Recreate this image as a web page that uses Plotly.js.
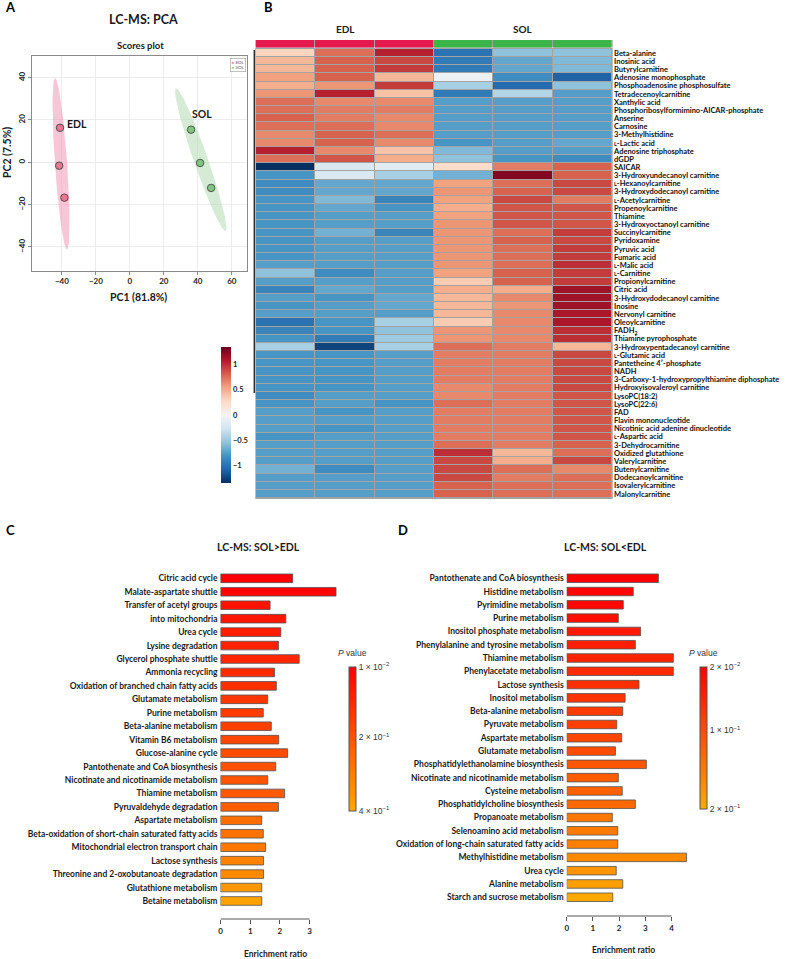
<!DOCTYPE html>
<html><head><meta charset="utf-8">
<script src="https://cdn.plot.ly/plotly-3.0.1.min.js"></script>
<style>html,body{margin:0;padding:0;background:#fff}#chart{width:800px;height:959px}</style>
</head><body><div id="chart"></div>
<script>
// ---------------- Panel A: PCA scores ----------------
const edlPC1 = [-41.1, -41.6, -38.5];
const edlPC2 = [16.3, -1.6, -16.7];
const solPC1 = [36.0, 41.3, 47.8];
const solPC2 = [15.4, -0.3, -12.1];
// confidence ellipses: [centre x, centre y, half-axis vector (x,y), half-width vector (x,y)]
const edlEllipse = [-40.5, -0.7, -3.5, 40.4, 3.6, 0];
const solEllipse = [41.7, 1.25, -14.5, 33.75, 4.4, 0];

// ---------------- Panel B: heatmap ----------------
const sL = '<span style="font-size:5.5px">L</span>';
const metabolites = [
 'Beta-alanine','Inosinic acid','Butyrylcarnitine','Adenosine monophosphate','Phosphoadenosine phosphosulfate',
 'Tetradecenoylcarnitine','Xanthylic acid','Phosphoribosylformimino-AICAR-phosphate','Anserine','Carnosine',
 '3-Methylhistidine', sL+'-Lactic acid','Adenosine triphosphate','dGDP','SAICAR',
 '3-Hydroxyundecanoyl carnitine', sL+'-Hexanoylcarnitine','3-Hydroxydodecanoyl carnitine', sL+'-Acetylcarnitine','Propenoylcarnitine',
 'Thiamine','3-Hydroxyoctanoyl carnitine','Succinylcarnitine','Pyridoxamine','Pyruvic acid',
 'Fumaric acid', sL+'-Malic acid', sL+'-Carnitine','Propionylcarnitine','Citric acid',
 '3-Hydroxydodecanoyl carnitine','Inosine','Nervonyl carnitine','Oleoylcarnitine','FADH<sub>2</sub>',
 'Thiamine pyrophosphate','3-Hydroxypentadecanoyl carnitine', sL+'-Glutamic acid','Pantetheine 4\u2032-phosphate','NADH',
 '3-Carboxy-1-hydroxypropylthiamine diphosphate','Hydroxyisovaleroyl carnitine','LysoPC(18:2)','LysoPC(22:6)','FAD',
 'Flavin mononucleotide','Nicotinic acid adenine dinucleotide', sL+'-Aspartic acid','3-Dehydrocarnitine','Oxidized glutathione',
 'Valerylcarnitine','Butenylcarnitine','Dodecanoylcarnitine','Isovalerylcarnitine','Malonylcarnitine'];
const sampleGroups = ['EDL','EDL','EDL','SOL','SOL','SOL'];
const EDL_1 = [0.3,0.45,0.45,0.55,0.5,0.6,0.75,0.75,0.8,0.75,0.65,0.65,1.05,0.75,
 -1.35,-0.8,-0.85,-0.85,-0.8,-0.8,-0.8,-0.8,-0.8,-0.8,-0.8,-0.8,-0.75,
 -0.55,-0.75,-0.9,-0.75,-0.8,-0.75,-1.0,-0.9,-0.8,-0.45,
 -0.8,-0.8,-0.8,-0.8,-0.8,-0.85,-0.8,-0.75,-0.75,-0.75,-0.8,-0.75,
 -0.75,-0.75,-0.65,-0.75,-0.75,-0.75];
const EDL_2 = [0.75,0.8,0.8,0.8,0.6,1.05,0.65,0.7,0.7,0.75,0.8,0.8,0.65,0.85,
 -0.2,-0.2,-0.7,-0.7,-0.6,-0.7,-0.75,-0.75,-0.65,-0.75,-0.75,-0.75,-0.75,
 -0.85,-0.75,-0.7,-0.8,-0.75,-0.75,-0.8,-0.8,-0.95,-1.25,
 -0.8,-0.8,-0.8,-0.8,-0.8,-0.75,-0.75,-0.8,-0.75,-0.8,-0.75,-0.75,
 -0.75,-0.75,-0.85,-0.75,-0.75,-0.75];
const EDL_3 = [1.05,0.9,0.95,0.45,0.95,0.4,0.65,0.7,0.65,0.65,0.75,0.65,0.4,0.5,
 -0.15,-0.45,-0.7,-0.7,-0.9,-0.8,-0.75,-0.75,-0.9,-0.75,-0.75,-0.75,-0.75,
 -0.75,-0.75,-0.75,-0.7,-0.7,-0.75,-0.45,-0.55,-0.5,-0.45,
 -0.75,-0.75,-0.75,-0.75,-0.75,-0.75,-0.8,-0.75,-0.75,-0.75,-0.75,-0.75,
 -0.75,-0.75,-0.75,-0.75,-0.75,-0.75];
const SOL_1 = [-1.0,-0.95,-0.95,-0.05,-0.45,-0.95,-0.75,-0.75,-0.75,-0.75,-0.75,-0.8,-0.6,-0.55,
 0.25,-0.65,0.55,0.6,0.55,0.5,0.55,0.6,0.6,0.6,0.6,0.6,0.6,
 0.55,0.35,0.5,0.45,0.45,0.45,0.35,0.6,0.6,0.75,
 0.7,0.7,0.7,0.7,0.65,0.65,0.75,0.7,0.7,0.7,0.7,0.75,
 1.0,0.9,0.9,0.9,0.8,0.8];
const SOL_2 = [-0.55,-0.7,-0.7,-0.85,-1.05,-0.4,-0.75,-0.75,-0.75,-0.75,-0.75,-0.75,-0.75,-0.8,
 0.7,1.25,0.75,0.8,0.9,0.85,0.85,0.85,0.75,0.8,0.75,0.75,0.75,
 0.8,0.8,0.5,0.65,0.6,0.65,0.65,0.65,0.65,0.7,
 0.7,0.7,0.7,0.7,0.7,0.7,0.7,0.7,0.7,0.7,0.7,0.7,
 0.45,0.5,0.75,0.7,0.75,0.75];
const SOL_3 = [-0.55,-0.6,-0.6,-1.1,-0.55,-0.75,-0.75,-0.75,-0.75,-0.75,-0.75,-0.7,-0.75,-0.85,
 0.8,0.8,0.9,0.9,0.7,0.85,0.85,0.85,0.95,0.9,0.95,0.95,1.0,
 0.95,0.95,1.15,1.15,1.15,1.1,1.1,1.0,1.0,0.45,
 0.9,0.9,0.9,0.9,0.9,0.85,0.85,0.85,0.85,0.85,0.85,0.8,
 0.75,0.9,0.65,0.75,0.75,0.75];

// ---------------- Panel C: SOL>EDL enrichment ----------------
const pathwaysC = ['Citric acid cycle','Malate-aspartate shuttle','Transfer of acetyl groups','into mitochondria','Urea cycle',
 'Lysine degradation','Glycerol phosphate shuttle','Ammonia recycling','Oxidation of branched chain fatty acids','Glutamate metabolism',
 'Purine metabolism','Beta-alanine metabolism','Vitamin B6 metabolism','Glucose-alanine cycle','Pantothenate and CoA biosynthesis',
 'Nicotinate and nicotinamide metabolism','Thiamine metabolism','Pyruvaldehyde degradation','Aspartate metabolism','Beta-oxidation of short-chain saturated fatty acids',
 'Mitochondrial electron transport chain','Lactose synthesis','Threonine and 2-oxobutanoate degradation','Glutathione metabolism','Betaine metabolism'];
const enrichC = [2.43,3.89,1.67,2.2,2.03,1.95,2.65,1.82,1.88,1.59,1.44,1.71,1.96,2.26,1.86,1.59,2.16,1.95,1.39,1.44,1.52,1.45,1.45,1.39,1.39];
const pValC = [0.01,0.018,0.049,0.061,0.076,0.088,0.096,0.108,0.119,0.135,0.147,0.158,0.174,0.186,0.197,0.205,0.217,0.228,0.264,0.275,0.291,0.314,0.33,0.361,0.388];

// ---------------- Panel D: SOL<EDL enrichment ----------------
const pathwaysD = ['Pantothenate and CoA biosynthesis','Histidine metabolism','Pyrimidine metabolism','Purine metabolism','Inositol phosphate metabolism',
 'Phenylalanine and tyrosine metabolism','Thiamine metabolism','Phenylacetate metabolism','Lactose synthesis','Inositol metabolism',
 'Beta-alanine metabolism','Pyruvate metabolism','Aspartate metabolism','Glutamate metabolism','Phosphatidylethanolamine biosynthesis',
 'Nicotinate and nicotinamide metabolism','Cysteine metabolism','Phosphatidylcholine biosynthesis','Propanoate metabolism','Selenoamino acid metabolism',
 'Oxidation of long-chain saturated fatty acids','Methylhistidine metabolism','Urea cycle','Alanine metabolism','Starch and sucrose metabolism'];
const enrichD = [3.5,2.54,2.16,1.97,2.82,2.62,4.07,4.07,2.76,2.23,2.14,1.91,2.1,1.86,3.04,1.97,2.12,2.62,1.74,1.95,1.95,4.57,1.89,2.14,1.76];
const pValD = [0.02,0.024,0.029,0.034,0.047,0.052,0.06,0.065,0.07,0.074,0.083,0.088,0.096,0.101,0.11,0.119,0.124,0.132,0.146,0.151,0.157,0.168,0.178,0.191,0.2];

// ================= build =================
const F = 'Lato, "Open Sans", "DejaVu Sans", sans-serif';
const W = 800, H = 959;
const fx = p => p / W, fy = p => 1 - p / H;
const bold = (s, c) => ({family: F, size: s, color: c || '#1a1a1a', weight: 'bold'});

function ellipsePath(e) {
  const xs = [], ys = [];
  for (let i = 0; i <= 90; i++) {
    const t = 2 * Math.PI * i / 90;
    xs.push(e[0] + Math.cos(t) * e[2] + Math.sin(t) * e[4]);
    ys.push(e[1] + Math.cos(t) * e[3] + Math.sin(t) * e[5]);
  }
  return {xs, ys};
}
const eE = ellipsePath(edlEllipse), eS = ellipsePath(solEllipse);

const cols = [EDL_1, EDL_2, EDL_3, SOL_1, SOL_2, SOL_3];
const zHeat = metabolites.map((m, r) => cols.map(c => c[r]));
const rowIdx = metabolites.map((m, i) => i);
const colIdx = sampleGroups.map((g, i) => i);

const rdbu = [[0,'#053061'],[0.1,'#2166ac'],[0.2,'#4393c3'],[0.3,'#92c5de'],[0.4,'#d1e5f0'],[0.5,'#f4f4f4'],
  [0.6,'#fddbc7'],[0.7,'#f4a582'],[0.8,'#d6604d'],[0.9,'#b2182b'],[1,'#67001f']];
const cbFont = {family:'"Liberation Sans", Arial, sans-serif', size:8.5, color:'#333'};

const traces = [
  {type:'scatter', mode:'lines', x:eE.xs, y:eE.ys, fill:'toself', fillcolor:'rgba(242,160,188,0.6)', line:{width:0}, xaxis:'x', yaxis:'y', hoverinfo:'skip'},
  {type:'scatter', mode:'lines', x:eS.xs, y:eS.ys, fill:'toself', fillcolor:'rgba(185,222,185,0.6)', line:{width:0}, xaxis:'x', yaxis:'y', hoverinfo:'skip'},
  {type:'scatter', mode:'markers', x:edlPC1, y:edlPC2, marker:{size:7.5, color:'rgba(226,100,130,0.8)', line:{color:'#3a3a3a', width:0.8}}, xaxis:'x', yaxis:'y'},
  {type:'scatter', mode:'markers', x:solPC1, y:solPC2, marker:{size:7.5, color:'rgba(115,190,115,0.85)', line:{color:'#3a3a3a', width:0.8}}, xaxis:'x', yaxis:'y'},
  {type:'heatmap', z:zHeat, x:colIdx, y:rowIdx, xaxis:'x2', yaxis:'y2', colorscale:rdbu, zmin:-1.35, zmax:1.35,
   xgap:1, ygap:1,
   colorbar:{x:fx(221), xanchor:'left', xpad:0, y:fy(415), yanchor:'middle', ypad:0, len:136, lenmode:'pixels',
     thickness:10, thicknessmode:'pixels', outlinewidth:0, tickvals:[-1,-0.5,0,0.5,1], ticktext:['\u22121','\u22120.5','0','0.5','1'],
     ticks:'', tickfont:{family:F, size:7.5, color:'#222', weight:'bold'}}},
  {type:'heatmap', z:[sampleGroups.map(g => g === 'EDL' ? 0 : 1)], x:colIdx, y:[0], xaxis:'x2', yaxis:'y5',
   colorscale:[[0,'#e5194d'],[0.5,'#e5194d'],[0.5,'#3bb54a'],[1,'#3bb54a']], zmin:0, zmax:1, showscale:false, xgap:1},
  {type:'bar', orientation:'h', x:enrichC, y:pathwaysC, xaxis:'x3', yaxis:'y3', width:0.64,
   marker:{color:pValC.map(p => -p), colorscale:[[0,'#ffa800'],[1,'#ff0000']], cmin:-0.4, cmax:-0.01,
     line:{color:'#505050', width:0.8}, showscale:true,
     colorbar:{x:fx(349), xanchor:'left', xpad:0, y:fy(739), yanchor:'middle', ypad:0, len:144, lenmode:'pixels',
       thickness:7, thicknessmode:'pixels', outlinewidth:1, outlinecolor:'#555', tickvals:[-0.01,-0.2,-0.4],
       ticktext:['1 \u00d7 10<sup>\u22122</sup>','2 \u00d7 10<sup>\u22121</sup>','4 \u00d7 10<sup>\u22121</sup>'],
       ticks:'', tickfont:cbFont}}},
  {type:'bar', orientation:'h', x:enrichD, y:pathwaysD, xaxis:'x4', yaxis:'y4', width:0.64,
   marker:{color:pValD.map(p => -p), colorscale:[[0,'#ffa800'],[1,'#ff0000']], cmin:-0.2, cmax:-0.02,
     line:{color:'#505050', width:0.8}, showscale:true,
     colorbar:{x:fx(700), xanchor:'left', xpad:0, y:fy(738), yanchor:'middle', ypad:0, len:142, lenmode:'pixels',
       thickness:7, thicknessmode:'pixels', outlinewidth:1, outlinecolor:'#555', tickvals:[-0.02,-0.1,-0.2],
       ticktext:['2 \u00d7 10<sup>\u22122</sup>','1 \u00d7 10<sup>\u22121</sup>','2 \u00d7 10<sup>\u22121</sup>'],
       ticks:'', tickfont:cbFont}}}
];

function ann(text, px, py, font, extra) {
  return Object.assign({text, x:fx(px), y:fy(py), xref:'paper', yref:'paper', xanchor:'center', yanchor:'middle', showarrow:false, font}, extra || {});
}

const layout = {
  width: W, height: H, margin:{l:0, r:0, t:0, b:0}, paper_bgcolor:'#fff', plot_bgcolor:'rgba(0,0,0,0)',
  showlegend:false, font:{family:F, color:'#222'},
  xaxis:{domain:[fx(32.3), fx(247)], range:[-57.4, 68.9], tickvals:[-40,-20,0,20,40,60], showgrid:true, gridcolor:'#ececec',
    zeroline:false, showline:true, mirror:true, linecolor:'#8a8a8a', linewidth:1, ticks:'outside', ticklen:3, tickcolor:'#8a8a8a',
    tickfont:{family:F, size:8, color:'#222', weight:'bold'}, anchor:'y'},
  yaxis:{domain:[fy(270.7), fy(56)], range:[-51.2, 50.2], tickvals:[-40,-20,0,20,40], showgrid:true, gridcolor:'#ececec',
    zeroline:false, showline:true, mirror:true, linecolor:'#8a8a8a', linewidth:1, ticks:'outside', ticklen:3, tickcolor:'#8a8a8a',
    tickangle:-90, tickfont:{family:F, size:8, color:'#222', weight:'bold'}, anchor:'x'},
  xaxis2:{domain:[fx(256), fx(612)], range:[-0.5, 5.5], visible:false, anchor:'y2'},
  yaxis2:{domain:[fy(498), fy(49)], range:[metabolites.length - 0.5, -0.5], side:'right', tickvals:rowIdx, ticktext:metabolites,
    ticks:'', showgrid:false, zeroline:false, showline:false, tickfont:bold(7.5, '#111'), anchor:'x2', ticklabelstandoff:1},
  yaxis5:{domain:[fy(47.5), fy(40)], range:[0.5, -0.5], visible:false, anchor:'x2'},
  xaxis3:{domain:[fx(220.5), fx(220.5 + 4 * 29.7)], range:[0, 4], tickvals:[0,1,2,3], ticks:'outside', ticklen:4, tickcolor:'#555',
    showline:false, showgrid:false, zeroline:false, tickfont:bold(8, '#222'), anchor:'y3'},
  yaxis3:{domain:[fy(919), fy(570)], type:'category', range:[pathwaysC.length - 1 + 1.34, -0.62], ticks:'', showgrid:false,
    zeroline:false, showline:false, tickfont:bold(8.5, '#1a1a1a'), anchor:'x3', ticklabelstandoff:2},
  xaxis4:{domain:[fx(566.7), fx(566.7 + 5 * 26.2)], range:[0, 5], tickvals:[0,1,2,3,4], ticks:'outside', ticklen:4, tickcolor:'#555',
    showline:false, showgrid:false, zeroline:false, tickfont:bold(8, '#222'), anchor:'y4'},
  yaxis4:{domain:[fy(916), fy(570)], type:'category', range:[pathwaysD.length - 1 + 1.41, -0.62], ticks:'', showgrid:false,
    zeroline:false, showline:false, tickfont:bold(8.5, '#1a1a1a'), anchor:'x4', ticklabelstandoff:2},
  shapes:[
    {type:'rect', xref:'x2 domain', yref:'y2 domain', x0:-0.002, x1:1.002, y0:-0.002, y1:1.002, fillcolor:'#a3a3a3', line:{width:0}, layer:'below'},
    {type:'rect', xref:'x2 domain', yref:'y5 domain', x0:-0.002, x1:1.002, y0:0, y1:1, fillcolor:'#a3a3a3', line:{width:0}, layer:'below'},
    {type:'line', xref:'paper', yref:'paper', x0:fx(254.3), x1:fx(254.3), y0:fy(50), y1:fy(393), line:{color:'#333', width:1.5}},
    {type:'line', xref:'x3', yref:'y3 domain', x0:0, x1:3, y0:0, y1:0, line:{color:'#555', width:1}},
    {type:'line', xref:'x4', yref:'y4 domain', x0:0, x1:4, y0:0, y1:0, line:{color:'#555', width:1}}
  ],
  annotations:[
    ann('A', 10, 7, bold(13, '#000')),
    ann('B', 268, 7, bold(13, '#000')),
    ann('C', 10, 530, bold(13, '#000')),
    ann('D', 403, 530, bold(13, '#000')),
    ann('LC-MS: PCA', 143, 19.5, bold(12.5)),
    ann('Scores plot', 140, 46, bold(9.5)),
    ann('PC1 (81.8%)', 138, 297, bold(10.5)),
    ann('PC2 (7.5%)', 7, 153, bold(10.5), {textangle:-90}),
    {text:'EDL', x:-31, y:18.1, xref:'x', yref:'y', xanchor:'center', yanchor:'middle', showarrow:false, font:bold(10.5)},
    {text:'SOL', x:42.5, y:22.8, xref:'x', yref:'y', xanchor:'center', yanchor:'middle', showarrow:false, font:bold(10.5)},
    {text:'<span style="color:#f08aa8">\u25cf</span> EDL<br><span style="color:#8fd08f">\u25cf</span> SOL', x:fx(245.5), y:fy(58.5),
     xref:'paper', yref:'paper', xanchor:'right', yanchor:'top', align:'left', showarrow:false, bordercolor:'#999', borderwidth:0.6,
     borderpad:1, bgcolor:'#fff', font:{family:F, size:4.5, color:'#555'}},
    {text:'EDL', x:1, y:fy(29), xref:'x2', yref:'paper', xanchor:'center', yanchor:'middle', showarrow:false, font:bold(10)},
    {text:'SOL', x:4, y:fy(29), xref:'x2', yref:'paper', xanchor:'center', yanchor:'middle', showarrow:false, font:bold(10)},
    ann('LC-MS: SOL&gt;EDL', 258, 547, bold(10.5)),
    ann('LC-MS: SOL&lt;EDL', 605, 547, bold(10.5)),
    ann('Enrichment ratio', 275, 954, bold(8.5)),
    ann('Enrichment ratio', 623, 950, bold(8.5)),
    ann('<i>P</i> value', 352, 653, {family:'"Liberation Sans", Arial, sans-serif', size:8.5, color:'#333'}),
    ann('<i>P</i> value', 703, 653, {family:'"Liberation Sans", Arial, sans-serif', size:8.5, color:'#333'})
  ]
};
Plotly.newPlot('chart', traces, layout, {displayModeBar:false, staticPlot:true});
</script>
</body></html>
